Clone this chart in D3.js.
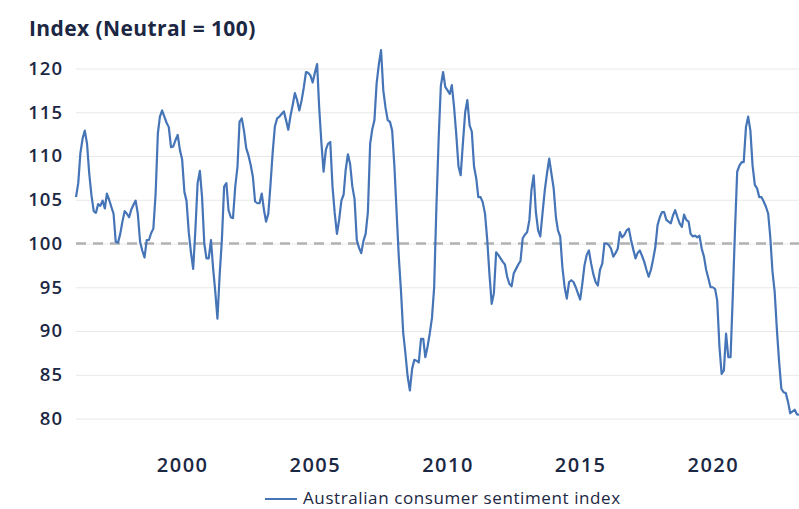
<!DOCTYPE html>
<html>
<head>
<meta charset="utf-8">
<script src="https://cdn.jsdelivr.net/npm/d3@7"></script>
<style>
  body { margin: 0; background: #fff; }
  .canvas text { font-family: "Open Sans", "DejaVu Sans", sans-serif; fill: #1b2743; }
</style>
</head>
<body>
<div class="canvas"></div>
<script>
// monthly readings, first value = Jan 1996, last = Apr 2023
const startMonth = '1996-01';
const sentiment = [
  105.3, 106.9, 110.3, 112.0, 112.9, 111.4, 108.0, 105.5, 103.7, 103.5, 104.5, 104.3, // 1996
  104.9, 104.0, 105.7, 105.0, 104.2, 103.4, 100.2, 100.1, 101.1, 102.5, 103.7, 103.4, // 1997
  103.0, 103.9, 104.4, 104.9, 103.4, 100.2, 99.2, 98.4, 100.4, 100.4, 101.2, 101.7,   // 1998
  105.7, 112.6, 114.5, 115.2, 114.5, 113.8, 113.3, 111.0, 111.1, 111.8, 112.4, 110.7, // 1999
  109.6, 105.9, 104.9, 101.3, 99.0, 97.1, 101.5, 106.9, 108.3, 105.3, 100.0, 98.3,    // 2000
  98.3, 100.4, 97.3, 94.5, 91.4, 96.5, 100.4, 106.5, 106.9, 103.8, 103.0, 102.9,      // 2001
  106.5, 108.8, 113.9, 114.3, 112.9, 110.9, 110.1, 109.0, 107.6, 104.8, 104.6, 104.6, // 2002
  105.7, 103.8, 102.5, 103.4, 106.7, 110.5, 113.4, 114.3, 114.5, 114.8, 115.1, 114.1, // 2003
  113.0, 114.6, 115.8, 117.2, 116.4, 115.2, 116.3, 117.8, 119.6, 119.5, 119.2, 118.4, // 2004
  119.5, 120.5, 115.6, 111.5, 108.2, 110.7, 111.4, 111.6, 106.5, 103.5, 101.1, 102.7, // 2005
  104.9, 105.6, 108.4, 110.2, 109.1, 106.5, 105.1, 100.4, 99.5, 98.9, 100.3, 101.1,   // 2006
  103.6, 111.4, 113.0, 114.1, 118.3, 120.5, 122.1, 117.5, 115.5, 114.1, 113.9, 112.9, // 2007
  108.8, 103.4, 98.5, 94.5, 89.8, 87.4, 84.8, 83.2, 85.7, 86.7, 86.6, 86.4,           // 2008
  89.1, 89.1, 87.0, 88.2, 89.7, 91.5, 95.0, 104.2, 112.0, 118.0, 119.6, 117.9,        // 2009
  117.5, 117.1, 118.1, 115.6, 112.5, 108.8, 107.8, 111.5, 115.0, 116.4, 113.5, 112.8, // 2010
  108.8, 107.4, 105.3, 105.3, 104.7, 103.4, 100.5, 96.5, 93.1, 94.3, 99.0, 98.7,      // 2011
  98.3, 97.9, 97.6, 96.2, 95.4, 95.1, 96.6, 97.1, 97.6, 98.0, 100.6, 101.0,           // 2012
  101.3, 102.7, 106.1, 107.8, 103.6, 101.5, 100.8, 103.5, 106.1, 108.0, 109.7, 108.0, // 2013
  106.3, 103.0, 101.5, 100.8, 97.3, 95.0, 93.7, 95.6, 95.8, 95.6, 95.0, 94.3,         // 2014
  93.6, 95.5, 97.5, 98.7, 99.2, 97.7, 96.5, 95.6, 95.2, 97.0, 97.7, 100.0,            // 2015
  100.0, 99.8, 99.4, 98.5, 98.9, 99.4, 101.3, 100.7, 101.0, 101.5, 101.7, 100.4,      // 2016
  99.3, 98.3, 98.9, 99.2, 98.6, 97.9, 97.0, 96.2, 97.0, 98.2, 99.6, 102.1,            // 2017
  103.0, 103.6, 103.6, 102.7, 102.5, 102.3, 103.2, 103.8, 103.0, 102.3, 101.9, 103.3, // 2018
  102.7, 102.5, 101.1, 100.8, 100.9, 100.7, 100.9, 99.4, 98.5, 97.0, 96.0, 95.0,      // 2019
  95.0, 94.8, 93.5, 88.2, 85.1, 85.5, 89.7, 87.0, 87.0, 93.9, 101.5, 108.2,           // 2020
  108.9, 109.3, 109.3, 113.3, 114.5, 112.9, 108.9, 106.7, 106.3, 105.3, 105.3, 104.8, // 2021
  104.2, 103.4, 100.8, 96.8, 94.5, 90.1, 86.5, 83.4, 83.0, 82.9, 81.9, 80.6,          // 2022
  80.8, 81.0, 80.5, 80.4                                                              // 2023
];
const yTicks = [80, 85, 90, 95, 100, 105, 110, 115, 120];
const xTickYears = [2000, 2005, 2010, 2015, 2020];
const neutral = 100;
const seriesName = 'Australian consumer sentiment index';

const width = 799, height = 509;
const margin = { top: 68.5, right: 0, bottom: 90.5, left: 76 };
const graphWidth = width - margin.left - margin.right;
const graphHeight = height - margin.top - margin.bottom;

const svg = d3.select('.canvas')
  .append('svg')
  .attr('width', width)
  .attr('height', height);

const start = d3.timeParse('%Y-%m')(startMonth);
const data = sentiment.map((v, i) => ({ date: d3.timeMonth.offset(start, i), value: v }));

const x = d3.scaleTime()
  .domain(d3.extent(data, d => d.date))
  .range([0, graphWidth]);

const y = d3.scaleLinear()
  .domain([80, 120])
  .range([graphHeight, 0]);

// title
svg.append('text')
  .attr('x', 29)
  .attr('y', 36)
  .attr('font-size', '21px')
  .attr('font-weight', 700)
  .attr('letter-spacing', '0.4px')
  .text('Index (Neutral = 100)');

const graph = svg.append('g')
  .attr('transform', `translate(${margin.left}, ${margin.top})`);

// gridlines + y labels
const yAxis = d3.axisLeft(y)
  .tickValues(yTicks)
  .tickSize(-graphWidth)
  .tickPadding(13);

const yAxisGroup = graph.append('g').call(yAxis);
yAxisGroup.select('.domain').remove();
yAxisGroup.selectAll('.tick line')
  .attr('stroke', '#e8e8e8')
  .attr('stroke-width', 1);
yAxisGroup.selectAll('.tick text')
  .attr('font-size', '18.5px')
  .attr('font-weight', 600)
  .attr('letter-spacing', '1px')
  .attr('fill', '#1b2743');

// neutral line
graph.append('line')
  .attr('x1', 0)
  .attr('x2', graphWidth)
  .attr('y1', y(neutral))
  .attr('y2', y(neutral))
  .attr('stroke', '#b3b3b3')
  .attr('stroke-width', 2.5)
  .attr('stroke-dasharray', '10,7');

// x labels
const xAxis = d3.axisBottom(x)
  .tickValues(xTickYears.map(yr => new Date(yr, 0, 1)))
  .tickFormat(d3.timeFormat('%Y'))
  .tickSize(0)
  .tickPadding(0);

const xAxisGroup = graph.append('g')
  .attr('transform', `translate(0, ${graphHeight})`)
  .call(xAxis);
xAxisGroup.select('.domain').remove();
xAxisGroup.selectAll('.tick text')
  .attr('y', 39)
  .attr('dy', '0.71em')
  .attr('font-size', '20px')
  .attr('font-weight', 600)
  .attr('letter-spacing', '1.5px')
  .attr('fill', '#1b2743');

// series
const line = d3.line()
  .x(d => x(d.date))
  .y(d => y(d.value));

graph.append('path')
  .datum(data)
  .attr('fill', 'none')
  .attr('stroke', '#4574b7')
  .attr('stroke-width', 2.2)
  .attr('stroke-linejoin', 'round')
  .attr('d', line);

// legend
const legend = svg.append('g')
  .attr('transform', 'translate(265, 499)');
legend.append('line')
  .attr('x1', 0)
  .attr('x2', 32)
  .attr('stroke', '#4574b7')
  .attr('stroke-width', 2);
legend.append('text')
  .attr('x', 38)
  .attr('y', 5)
  .attr('font-size', '17px')
  .attr('font-weight', 500)
  .attr('letter-spacing', '0.6px')
  .text(seriesName);
</script>
</body>
</html>
